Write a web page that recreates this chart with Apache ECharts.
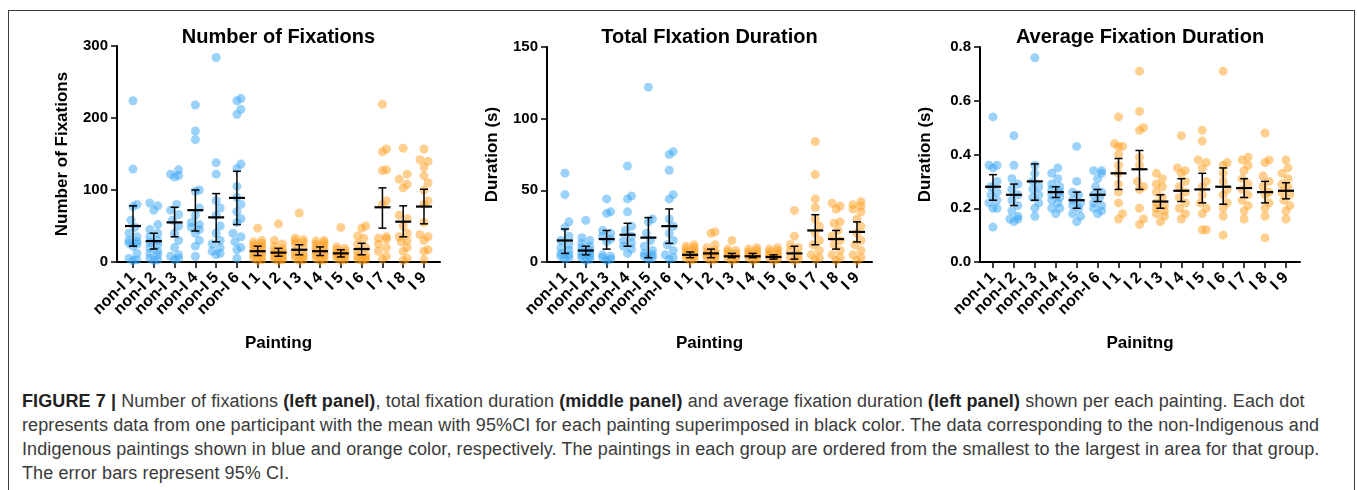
<!DOCTYPE html>
<html>
<head>
<meta charset="utf-8">
<script src="https://cdn.jsdelivr.net/npm/echarts@6/dist/echarts.min.js"></script>
<style>
body{margin:0;background:#fff;}
#frame{position:absolute;left:8px;top:10px;width:1345px;height:520px;border:1.5px solid #3a3a3a;border-bottom:none;}
#chart{position:absolute;left:0;top:0;width:1357px;height:372px;}
#caption{position:absolute;left:22px;top:389px;font-family:"Liberation Sans",Arial,sans-serif;font-size:18px;letter-spacing:0.1px;line-height:24px;color:#3a3a3a;white-space:nowrap;}
#caption b{color:#222;}
</style>
</head>
<body>
<div id="frame"></div>
<div id="chart"></div>
<div id="caption">
<b>FIGURE 7 |</b> Number of fixations <b>(left panel)</b>, total fixation duration <b>(middle panel)</b> and average fixation duration <b>(left panel)</b> shown per each painting. Each dot<br>
represents data from one participant with the mean with 95%CI for each painting superimposed in black color. The data corresponding to the non-Indigenous and<br>
Indigenous paintings shown in blue and orange color, respectively. The paintings in each group are ordered from the smallest to the largest in area for that group.<br>
The error bars represent 95% CI.
</div>
<script>
var paintings = ['non-I 1','non-I 2','non-I 3','non-I 4','non-I 5','non-I 6','I 1','I 2','I 3','I 4','I 5','I 6','I 7','I 8','I 9'];
var nonIndigenousCount = 6;

// number of fixations, one array per painting (one dot per participant)
var fixCount = [
  [224,129,80,77,58,48,40,35,30,28,26,25,22,12,5,3,2],
  [82,78,72,52,45,40,35,30,27,24,20,15,12,10,5,3,2],
  [128,122,120,118,80,72,66,58,50,40,30,20,10,8,5,3],
  [218,182,170,100,98,75,65,55,52,48,45,40,30,22,8],
  [284,138,122,85,75,65,50,40,30,25,20,15,12,10],
  [227,224,212,205,136,130,105,90,80,70,60,55,40,35,28,20,17,5],
  [47,30,28,26,24,22,20,18,15,12,10,8,5,3,2],
  [53,30,25,22,18,16,14,12,10,8,5,4,3,2],
  [68,33,31,29,27,25,20,15,12,10,8,5,3,2],
  [30,29,27,25,23,20,18,15,12,10,8,5,3,2],
  [48,21,19,17,15,13,11,9,7,5,3,2],
  [50,47,36,33,25,20,15,10,8,6,4,3,2],
  [219,157,153,128,127,85,80,35,33,32,25,20,15,8,4],
  [158,122,115,108,103,65,60,50,40,35,30,28,20,15,5,2],
  [157,142,140,132,120,110,100,85,80,55,38,35,30,17,15,3]
];
var fixCountMean = [50,29,55,72,62,89,15,13,17,15,12,18,76,56,77];
var fixCountLow  = [22,18,35,43,28,52,9,8,10,9,7,10,47,35,53];
var fixCountHigh = [78,40,76,100,95,126,22,19,24,21,17,26,103,78,101];

// total fixation duration (s)
var totalDur = [
  [62,47,28,24,18,15,12,10,8,6,5,4,3,2],
  [29,17,15,13,11,10,8,7,6,5,4,3,2,1],
  [44,35,34,22,20,18,16,14,5,4,3,2,1],
  [67,46,44,35,25,22,18,15,13,11,9,6],
  [122,30,28,20,15,11,8,6,5,4,3,2],
  [77,75,64,47,44,30,25,20,15,12,8,5,3,2],
  [12,11,10,9,8,7,6,5,4,3,2,1],
  [21,20,12,10,8,7,6,5,4,3,2,1],
  [15,9,8,7,6,5,4,3,2,1],
  [10,9,8,7,6,5,4,3,2,1],
  [10,9,8,7,6,5,4,3,2,1],
  [36,18,12,10,8,5,3,2,1],
  [84,61,44,38,30,25,20,15,12,8,5,3,2],
  [41,39,37,28,27,22,18,15,12,8,5,3,1],
  [42,40,39,37,35,30,25,20,15,12,8,5,3,1]
];
var totalDurMean = [15,8,16,19,17,25,5,6,4,4,3.5,6,22,16,21];
var totalDurLow  = [6,5,9,11,3,13,3,3,3,3,2,2,12,9,14];
var totalDurHigh = [23,11,22,27,31,37,7,9,6,6,5,11,33,22,28];

// average fixation duration (s)
var avgDur = [
  [0.54,0.36,0.36,0.35,0.30,0.28,0.26,0.25,0.23,0.22,0.20,0.20,0.13],
  [0.47,0.36,0.31,0.29,0.27,0.25,0.23,0.21,0.19,0.17,0.16,0.16,0.15],
  [0.76,0.36,0.33,0.30,0.28,0.27,0.25,0.24,0.22,0.20,0.17],
  [0.35,0.33,0.31,0.29,0.28,0.27,0.26,0.25,0.24,0.23,0.22,0.20,0.20,0.18],
  [0.43,0.30,0.26,0.25,0.23,0.22,0.21,0.20,0.18,0.17,0.15],
  [0.34,0.34,0.33,0.31,0.28,0.26,0.25,0.24,0.22,0.21,0.20,0.19,0.18],
  [0.54,0.44,0.43,0.43,0.40,0.36,0.33,0.29,0.26,0.22,0.18,0.16],
  [0.71,0.56,0.50,0.49,0.39,0.36,0.30,0.28,0.27,0.20,0.16,0.14],
  [0.33,0.31,0.29,0.28,0.26,0.24,0.22,0.21,0.20,0.19,0.18,0.17,0.15],
  [0.47,0.35,0.34,0.33,0.30,0.28,0.26,0.24,0.22,0.20,0.18,0.16],
  [0.49,0.45,0.38,0.37,0.35,0.30,0.28,0.25,0.22,0.20,0.18,0.12,0.12],
  [0.71,0.37,0.36,0.33,0.30,0.27,0.25,0.22,0.20,0.17,0.10],
  [0.39,0.38,0.36,0.34,0.31,0.29,0.27,0.25,0.23,0.21,0.19,0.16],
  [0.48,0.38,0.37,0.32,0.30,0.28,0.26,0.25,0.22,0.20,0.17,0.09],
  [0.38,0.35,0.33,0.31,0.29,0.28,0.26,0.25,0.23,0.21,0.19,0.16]
];
var avgDurMean = [0.28,0.25,0.30,0.26,0.23,0.25,0.33,0.345,0.225,0.265,0.27,0.28,0.275,0.26,0.265];
var avgDurLow  = [0.23,0.21,0.23,0.24,0.20,0.225,0.27,0.27,0.20,0.225,0.22,0.215,0.24,0.22,0.235];
var avgDurHigh = [0.325,0.29,0.365,0.28,0.26,0.27,0.385,0.415,0.25,0.31,0.33,0.35,0.31,0.30,0.295];

var blue = 'rgba(45,160,245,0.6)';
var orange = 'rgba(255,155,20,0.6)';
var fontFam = '"Liberation Sans", Arial, sans-serif';

var panels = [
  {title:'Number of Fixations', yName:'Number of Fixations', xName:'Painting', vals:fixCount, mean:fixCountMean, lo:fixCountLow, hi:fixCountHigh,
   ymax:300, step:100, dec:0, grid:{left:117, top:46, width:323, height:216}, xmin:-0.77, xmax:14.77},
  {title:'Total FIxation Duration', yName:'Duration (s)', xName:'Painting', vals:totalDur, mean:totalDurMean, lo:totalDurLow, hi:totalDurHigh,
   ymax:150, step:50, dec:0, grid:{left:547, top:47, width:325, height:215}, xmin:-0.86, xmax:14.72},
  {title:'Average Fixation Duration', yName:'Duration (s)', xName:'Painitng', vals:avgDur, mean:avgDurMean, lo:avgDurLow, hi:avgDurHigh,
   ymax:0.8, step:0.2, dec:1, grid:{left:980, top:47, width:320, height:215}, xmin:-0.62, xmax:14.67}
];

var chart = echarts.init(document.getElementById('chart'));
var idx = paintings.map(function(p, i){ return i; });

var option = {
  backgroundColor: 'transparent',
  animation: false,
  textStyle: {fontFamily: fontFam},
  title: [], grid: [], xAxis: [], yAxis: [], series: []
};

panels.forEach(function(p, g){
  option.title.push({
    text: p.title, left: p.grid.left + p.grid.width / 2, top: 27, textAlign: 'center', padding: 0,
    textStyle: {fontFamily: fontFam, fontSize: 20, fontWeight: 'bold', color: '#000'}
  });
  option.grid.push(p.grid);
  option.xAxis.push({
    type: 'value', gridIndex: g, min: p.xmin, max: p.xmax,
    name: p.xName, nameLocation: 'middle', nameGap: 73,
    nameTextStyle: {fontFamily: fontFam, fontSize: 17, fontWeight: 'bold', color: '#000'},
    axisLine: {show: true, onZero: false, lineStyle: {color: '#000', width: 2}},
    axisTick: {show: true, customValues: idx, length: 6, lineStyle: {color: '#000', width: 1.5}},
    // blank end labels at the axis limits so no painting label gets dropped
    axisLabel: {show: true, customValues: [p.xmin].concat(idx, [p.xmax]), rotate: 45, margin: 13,
      hideOverlap: false, showMinLabel: false, showMaxLabel: false,
      fontFamily: fontFam, fontSize: 16, fontWeight: 'bold', color: '#000',
      formatter: function(v){ return v === Math.round(v) ? paintings[v] : ''; }},
    splitLine: {show: false}
  });
  option.yAxis.push({
    type: 'value', gridIndex: g, min: 0, max: p.ymax, interval: p.step,
    name: p.yName, nameLocation: 'middle', nameGap: 46,
    nameTextStyle: {fontFamily: fontFam, fontSize: 17, fontWeight: 'bold', color: '#000'},
    axisLine: {show: true, onZero: false, lineStyle: {color: '#000', width: 2}},
    axisTick: {show: true, length: 6, lineStyle: {color: '#000', width: 1.5}},
    axisLabel: {margin: 9, fontFamily: fontFam, fontSize: 15, fontWeight: 'bold', color: '#000',
      formatter: function(v){ return v.toFixed(p.dec); }},
    splitLine: {show: false}
  });
  var blueData = [], orangeData = [];
  p.vals.forEach(function(arr, i){
    arr.forEach(function(v){
      (i < nonIndigenousCount ? blueData : orangeData).push([i, v]);
    });
  });
  option.series.push({type: 'scatter', xAxisIndex: g, yAxisIndex: g, symbolSize: 9, data: blueData,
    itemStyle: {color: blue}, z: 2});
  option.series.push({type: 'scatter', xAxisIndex: g, yAxisIndex: g, symbolSize: 9, data: orangeData,
    itemStyle: {color: orange}, z: 2});
  option.series.push({
    type: 'custom', xAxisIndex: g, yAxisIndex: g, z: 5,
    encode: {x: 0, y: [1, 2, 3]},
    data: p.mean.map(function(m, i){ return [i, m, p.lo[i], p.hi[i]]; }),
    renderItem: function(params, api){
      var pm = api.coord([api.value(0), api.value(1)]);
      var pl = api.coord([api.value(0), api.value(2)]);
      var ph = api.coord([api.value(0), api.value(3)]);
      var st = {stroke: '#000', lineWidth: 1.5};
      return {type: 'group', children: [
        {type: 'line', shape: {x1: pl[0], y1: pl[1], x2: ph[0], y2: ph[1]}, style: st},
        {type: 'line', shape: {x1: pl[0] - 4, y1: pl[1], x2: pl[0] + 4, y2: pl[1]}, style: st},
        {type: 'line', shape: {x1: ph[0] - 4, y1: ph[1], x2: ph[0] + 4, y2: ph[1]}, style: st},
        {type: 'line', shape: {x1: pm[0] - 8, y1: pm[1], x2: pm[0] + 8, y2: pm[1]}, style: {stroke: '#000', lineWidth: 2.2}}
      ]};
    }
  });
});

chart.setOption(option);

// compact beeswarm: nudge overlapping dots sideways within each painting
function swarm(ys, d){
  var order = ys.map(function(y, i){ return i; }).sort(function(a, b){ return ys[b] - ys[a]; });
  var placed = [], dx = [];
  order.forEach(function(i){
    var best = 0, bestCost = Infinity;
    [0, 1, -1, 2, -2].forEach(function(k){
      var x = k * 2, cost = Math.abs(k) * 0.05;
      placed.forEach(function(q){
        var dist = Math.sqrt((q.x - x) * (q.x - x) + (q.y - ys[i]) * (q.y - ys[i]));
        if (dist < d) cost += d - dist;
      });
      if (cost < bestCost){ bestCost = cost; best = x; }
    });
    placed.push({x: best, y: ys[i]});
    dx[i] = best;
  });
  return dx;
}

var update = [];
option.series.forEach(function(s){
  if (s.type !== 'scatter'){ update.push({}); return; }
  var g = s.xAxisIndex;
  var groups = {};
  s.data.forEach(function(pt, j){
    (groups[pt[0]] = groups[pt[0]] || []).push(j);
  });
  var newData = s.data.map(function(pt){ return {value: pt}; });
  Object.keys(groups).forEach(function(k){
    var js = groups[k];
    var ys = js.map(function(j){ return chart.convertToPixel({gridIndex: g}, s.data[j])[1]; });
    var dx = swarm(ys, 8);
    js.forEach(function(j, n){ newData[j].symbolOffset = [dx[n], 0]; });
  });
  update.push({data: newData});
});
chart.setOption({series: update});
</script>
</body>
</html>
